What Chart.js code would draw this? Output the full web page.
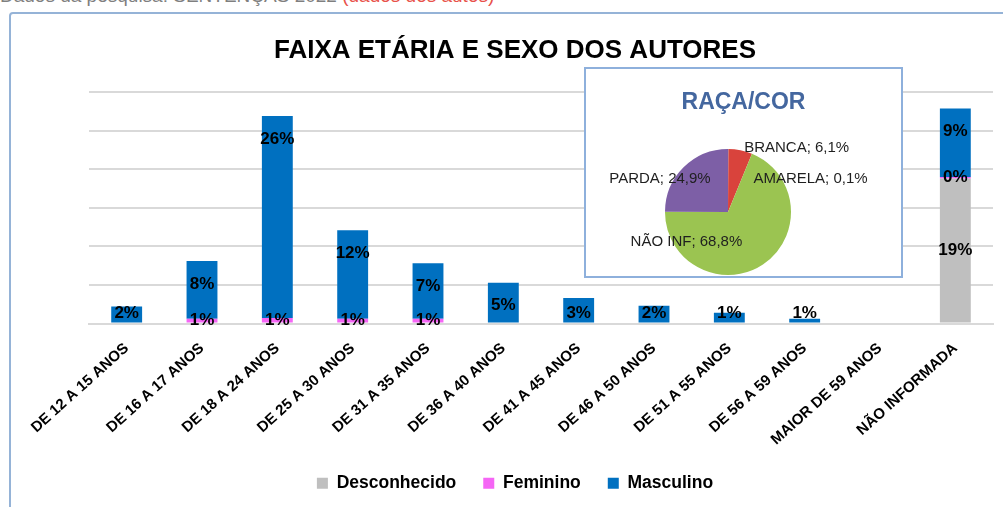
<!DOCTYPE html>
<html>
<head>
<meta charset="utf-8">
<script src="https://cdn.jsdelivr.net/npm/chart.js@4.4.0/dist/chart.umd.min.js"></script>
<style>
  html, body { margin: 0; padding: 0; background: #fff; overflow: hidden; }
  body { width: 1003px; height: 507px; position: relative; font-family: "Liberation Sans", Arial, sans-serif; }
  #note { position: absolute; left: 0; top: -15px; font-size: 19px; color: #7f7f7f; white-space: nowrap; }
  #note span { color: #e8524a; }
  #frame { position: absolute; left: 9px; top: 12px; width: 1010px; height: 520px; border: 2px solid #95b3d7; border-radius: 4px; }
  #main { position: absolute; left: 0; top: 0; }
  #inset { position: absolute; left: 584px; top: 67px; width: 315px; height: 207px; border: 2px solid #8eb0dc; background: #fff; }
  #insetTitle { position: absolute; left: 0; width: 100%; top: 19px; text-align: center; font-weight: bold; font-size: 23px; color: #44679f; }
  #pie { position: absolute; left: 0; top: 0; }
</style>
</head>
<body>
<div id="note">Dados da pesquisa: SENTENÇAS 2022 <span>(dados dos autos)</span></div>
<div id="frame"></div>
<canvas id="main" width="1003" height="507"></canvas>
<div id="inset">
  <canvas id="pie" width="315" height="207"></canvas>
  <div id="insetTitle">RAÇA/COR</div>
</div>
<script>
// faixa etaria x sexo (em % do total)
const ageLabels = ["DE 12 A 15 ANOS", "DE 16 A 17 ANOS", "DE 18 A 24 ANOS", "DE 25 A 30 ANOS",
  "DE 31 A 35 ANOS", "DE 36 A 40 ANOS", "DE 41 A 45 ANOS", "DE 46 A 50 ANOS",
  "DE 51 A 55 ANOS", "DE 56 A 59 ANOS", "MAIOR DE 59 ANOS", "NÃO INFORMADA"];
const desconhecido = [0, 0, 0, 0, 0, 0, 0, 0, 0, 0, 0, 18.8];
const feminino = [0, 0.6, 0.7, 0.6, 0.6, 0, 0, 0, 0, 0, 0, 0.2];
const masculino = [2.2, 7.5, 26.2, 11.5, 7.2, 5.3, 3.3, 2.3, 1.4, 0.6, 0, 8.9];
const yTicks = [0, 5, 10, 15, 20, 25, 30];

// raca/cor
const raceLabels = ["AMARELA", "BRANCA", "NÃO INF", "PARDA"];
const raceValues = [0.1, 6.1, 68.8, 24.9];

const FONT = '"Liberation Sans", Arial, sans-serif';
Chart.defaults.font.family = FONT;


   // labels dentro das barras

const barLabels = {
  id: "barLabels",
  afterDatasetsDraw(chart) {
    const ctx = chart.ctx;
    ctx.save();
    ctx.font = "bold 17px " + FONT;
    ctx.fillStyle = "#000";
    ctx.textAlign = "center";
    ctx.textBaseline = "middle";
    chart.data.datasets.forEach((ds, i) => {
      chart.getDatasetMeta(i).data.forEach((bar, j) => {
        const v = ds.data[j];
        if (!v) return;
        let y = (bar.y + bar.base) / 2;
        if (ds.label === "Masculino") y = Math.min(bar.y + 23, bar.base - 9);
        ctx.fillText(Math.round(v) + "%", bar.x, y);
      });
    });
    ctx.restore();
  }
};

new Chart(document.getElementById("main"), {
  type: "bar",
  data: {
    labels: ageLabels,
    datasets: [
      { label: "Desconhecido", data: desconhecido, backgroundColor: "#bfbfbf" },
      { label: "Feminino", data: feminino, backgroundColor: "#f566f5" },
      { label: "Masculino", data: masculino, backgroundColor: "#0070c0" }
    ]
  },
  options: {
    responsive: false,
    animation: false,
    datasets: { bar: { barPercentage: 0.41, categoryPercentage: 1 } },
    layout: { padding: { left: 37, right: 10, top: 13, bottom: 5 } },
    scales: {
      x: {
        stacked: true,
        grid: { display: false, drawTicks: false },
        border: { color: "#d9d9d9", width: 2 },
        ticks: { color: "#000", font: { size: 15, weight: "bold" }, minRotation: 42, maxRotation: 42, padding: 16, autoSkip: false },
        afterFit(s) { s.height = 124; }
      },
      y: {
        stacked: true,
        min: 0,
        max: yTicks[yTicks.length - 1],
        afterBuildTicks(s) { s.ticks = yTicks.map(v => ({ value: v })); },
        ticks: { display: false },
        grid: { color: "#d9d9d9", lineWidth: 2, drawTicks: false },
        border: { display: false },
        afterFit(s) { s.width = 52; }
      }
    },
    plugins: {
      title: {
        display: true,
        text: "FAIXA ETÁRIA E SEXO DOS AUTORES",
        color: "#000",
        font: { size: 26, weight: "bold" },
        padding: { top: 22, bottom: 26 }
      },
      legend: {
        position: "bottom",
        labels: { boxWidth: 11, boxHeight: 11, padding: 27, color: "#000", font: { size: 17.5, weight: "bold" } }
      },
      tooltip: { enabled: false }
    }
  },
  plugins: [barLabels]
});


   // rotulos da pizza (posicao em raios a partir do centro)

const pieLabelPos = [[1.31, -0.52], [1.09, -1.02], [-0.66, 0.47], [-1.08, -0.53]];

const pieLabels = {
  id: "pieLabels",
  afterDatasetsDraw(chart) {
    const ctx = chart.ctx;
    ctx.save();
    ctx.font = "15px " + FONT;
    ctx.fillStyle = "#1f1f1f";
    ctx.textAlign = "center";
    ctx.textBaseline = "middle";
    chart.getDatasetMeta(0).data.forEach((arc, i) => {
      const r = arc.outerRadius;
      const txt = raceLabels[i] + "; " + raceValues[i].toFixed(1).replace(".", ",") + "%";
      ctx.fillText(txt, arc.x + pieLabelPos[i][0] * r, arc.y + pieLabelPos[i][1] * r);
    });
    ctx.restore();
  }
};

new Chart(document.getElementById("pie"), {
  type: "pie",
  data: {
    labels: raceLabels,
    datasets: [{
      data: raceValues,
      backgroundColor: ["#4f81bd", "#d9433c", "#9bc451", "#7d5fa6"],
      borderWidth: 0
    }]
  },
  options: {
    responsive: false,
    animation: false,
    layout: { padding: { left: 78, right: 109, top: 80, bottom: 1 } },
    plugins: { legend: { display: false }, tooltip: { enabled: false } }
  },
  plugins: [pieLabels]
});
</script>
</body>
</html>
